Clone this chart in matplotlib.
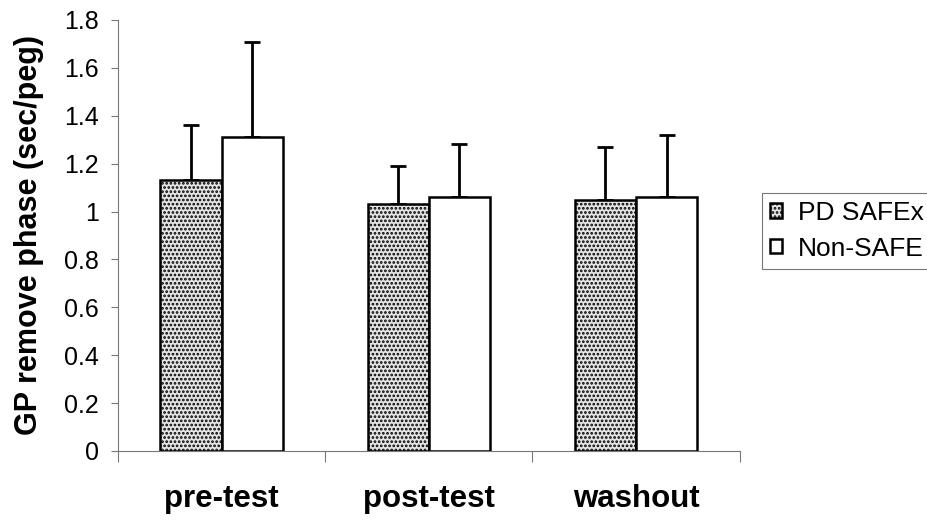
import matplotlib.pyplot as plt
import numpy as np

categories = ['pre-test', 'post-test', 'washout']
pd_safex = [1.13, 1.03, 1.05]
pd_safex_err = [0.23, 0.16, 0.22]
non_safe = [1.31, 1.06, 1.06]
non_safe_err = [0.40, 0.22, 0.26]
yticks = [0, 0.2, 0.4, 0.6, 0.8, 1, 1.2, 1.4, 1.6, 1.8]


def main():
    plt.rcParams['font.family'] = ['Liberation Sans', 'DejaVu Sans']
    plt.rcParams['hatch.linewidth'] = 1.3
    plt.rcParams['hatch.color'] = '#444444'

    fig = plt.figure(figsize=(9.27, 5.23), dpi=100)
    ax = fig.add_axes([0.1273, 0.1377, 0.6705, 0.8241])

    x = np.arange(len(categories)) + 0.5
    w = 0.295
    b1 = ax.bar(x - w / 2, pd_safex, w, color='#e4e4e4', edgecolor='black',
                linewidth=1.8, hatch='....', label='PD SAFEx', zorder=2)
    b2 = ax.bar(x + w / 2, non_safe, w, color='white', edgecolor='black',
                linewidth=1.8, label='Non-SAFE', zorder=2)
    ax.errorbar(x - w / 2, pd_safex, yerr=[np.zeros(3), pd_safex_err], fmt='none',
                ecolor='black', elinewidth=2, capsize=6, capthick=2, zorder=1)
    ax.errorbar(x + w / 2, non_safe, yerr=[np.zeros(3), non_safe_err], fmt='none',
                ecolor='black', elinewidth=2, capsize=6, capthick=2, zorder=1)

    ax.set_xlim(0, 3)
    ax.set_ylim(0, 1.8)
    ax.set_yticks(yticks)
    ax.set_yticklabels([f'{t:g}' for t in yticks], fontsize=18)
    ax.set_xticks([0, 1, 2, 3])
    ax.set_xticklabels([])
    ax.set_xticks(x, minor=True)
    ax.set_xticklabels(categories, minor=True, fontsize=22.5, fontweight='bold')
    ax.tick_params(axis='x', which='minor', length=0, pad=24)
    ax.tick_params(axis='x', which='major', length=8, color='#777777', direction='out')
    ax.tick_params(axis='y', length=5, color='#777777', direction='out', pad=9)

    for side in ['top', 'right']:
        ax.spines[side].set_visible(False)
    ax.spines['left'].set_color('#777777')
    ax.spines['bottom'].set_color('#777777')

    ax.set_ylabel('GP remove phase (sec/peg)', fontsize=22, fontweight='bold', labelpad=14)

    leg = fig.legend(handles=[b1, b2], loc='upper left', bbox_to_anchor=(0.822, 0.631),
                     fontsize=19, frameon=True, fancybox=False, handlelength=0.45,
                     handleheight=0.45, handletextpad=0.6, borderpad=0.3, labelspacing=0.45,
                     borderaxespad=0)
    leg.get_frame().set_edgecolor('#555555')
    leg.get_frame().set_linewidth(0.8)

    fig.savefig('out.png', dpi=100)


if __name__ == '__main__':
    main()
